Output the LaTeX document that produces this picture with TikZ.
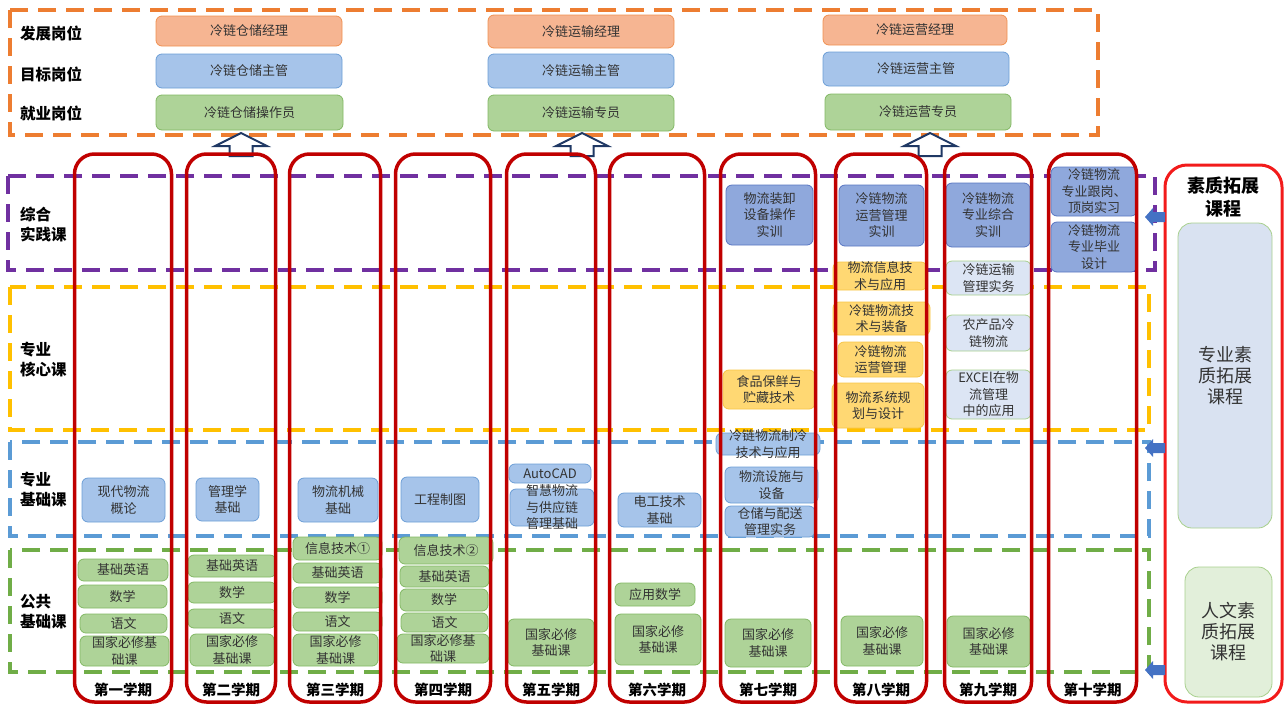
\documentclass[tikz,border=0pt]{standalone}
\usepackage{fontspec}
\setmainfont{Noto Sans CJK SC}
\usetikzlibrary{positioning}

\definecolor{lnorange}{HTML}{ED7D31}
\definecolor{lnpurple}{HTML}{7030A0}
\definecolor{lnyellow}{HTML}{FFC000}
\definecolor{lnblue}{HTML}{5B9BD5}
\definecolor{lngreen}{HTML}{70AD47}
\definecolor{semred}{HTML}{C00000}
\definecolor{brred}{HTML}{F21B1B}
\definecolor{navy}{HTML}{1F3864}
\definecolor{arblue}{HTML}{4472C4}

\tikzset{
  lane/.style={line width=4pt, dash pattern=on 18pt off 10pt},
  wh/.style 2 args={minimum width=#1, minimum height=#2},
  box/.style={draw, line width=0.8pt, rounded corners=6pt, align=center, inner sep=0pt,
    text=black!80, font=\fontsize{13}{16.5}\selectfont},
  txt/.style={align=center, inner sep=0pt, text=black!80, font=\fontsize{13}{16.5}\selectfont},
  obox/.style={box, draw=lnorange!85, fill={rgb,255:red,246;green,181;blue,146}},
  bbox/.style={box, draw={rgb,255:red,108;green,158;blue,214}, fill={rgb,255:red,166;green,196;blue,234}},
  gbox/.style={box, draw={rgb,255:red,130;green,184;blue,100}, fill={rgb,255:red,174;green,211;blue,152}},
  pbox/.style={box, draw={rgb,255:red,88;green,118;blue,194}, fill={rgb,255:red,143;green,168;blue,220}},
  ybox/.style={box, draw={rgb,255:red,247;green,197;blue,71}, fill={rgb,255:red,255;green,216;blue,115}},
  lbox/.style={box, draw={rgb,255:red,168;green,208;blue,141}, fill={rgb,255:red,220;green,229;blue,244}},
  head/.style={anchor=west, align=left, inner sep=0pt, font=\fontsize{15.5}{20}\selectfont\bfseries},
  sem/.style={draw=semred, line width=3.5pt, rounded corners=20pt, minimum height=548pt, inner sep=0pt},
  semlab/.style={inner sep=0pt, font=\fontsize{14.5}{17}\selectfont\bfseries},
  uparr/.style={draw=navy, line width=2pt, fill=white, line join=miter},
  larr/.style={fill=arblue}
}

\begin{document}
\begin{tikzpicture}[x=1pt, y=-1pt]
    \useasboundingbox (0,0) rectangle (1285,705);

    \draw[lane, draw=lnorange] (10,10) rectangle (1098,135);
    \draw[lane, draw=lnpurple] (8,176) rectangle (1155,270);
    \draw[lane, draw=lnyellow] (10,287) rectangle (1149,430);
    \draw[lane, draw=lnblue] (10,442) rectangle (1149,536);
    \draw[lane, draw=lngreen] (10,550) rectangle (1149,672);

    \node[head] (h1) at (20,34) {发展岗位};
    \node[head] (h2) at (20,74) {目标岗位};
    \node[head] (h3) at (20,113) {就业岗位};
    \node[head] (h4) at (20,225) {综合\\实践课};
    \node[head] (h5) at (20,360) {专业\\核心课};
    \node[head] (h6) at (20,490) {专业\\基础课};
    \node[head] (h7) at (20,612) {公共\\基础课};

    \node[obox, wh={186}{30}] (ja1) at (249,31) {冷链仓储经理};
    \node[bbox, wh={186}{34}] (ja2) at (249,71) {冷链仓储主管};
    \node[gbox, wh={187}{35}] (ja3) at (249.5,112.5) {冷链仓储操作员};
    \node[obox, wh={186}{33}] (jb1) at (581,31.5) {冷链运输经理};
    \node[bbox, wh={186}{34}] (jb2) at (581,71) {冷链运输主管};
    \node[gbox, wh={186}{36}] (jb3) at (581,113) {冷链运输专员};
    \node[obox, wh={184}{30}] (jc1) at (915,30) {冷链运营经理};
    \node[bbox, wh={186}{34}] (jc2) at (916,69) {冷链运营主管};
    \node[gbox, wh={186}{36}] (jc3) at (918,112) {冷链运营专员};

    \coordinate (u1) at (241,133);
    \coordinate (u2) at (582,133);
    \coordinate (u3) at (930,133);
    \draw[uparr] (u1) -- ++(26,13) -- ++(-14.5,0) -- ++(0,10) -- ++(-23,0) -- ++(0,-10) -- ++(-14.5,0) -- cycle;
    \draw[uparr] (u2) -- ++(26,13) -- ++(-14.5,0) -- ++(0,10) -- ++(-23,0) -- ++(0,-10) -- ++(-14.5,0) -- cycle;
    \draw[uparr] (u3) -- ++(26,13) -- ++(-14.5,0) -- ++(0,10) -- ++(-23,0) -- ++(0,-10) -- ++(-14.5,0) -- cycle;

    % semester 1-4
    \node[bbox, wh={83}{44}] (c1p) at (123.5,500) {现代物流\\概论};
    \node[gbox, wh={90}{22}] (c1a) at (123,570) {基础英语};
    \node[gbox, wh={89}{23}] (c1b) at (122.5,596.5) {数学};
    \node[gbox, wh={87}{19}] (c1c) at (123.5,623.5) {语文};
    \node[gbox, wh={89}{30}, label={[txt]center:{国家必修基\\础课}}] (c1d) at (124.5,651) {};

    \node[bbox, wh={63}{43}] (c2p) at (227.5,499.5) {管理学\\基础};
    \node[gbox, wh={88}{22}] (c2a) at (232,566) {基础英语};
    \node[gbox, wh={88}{21}] (c2b) at (232,592.5) {数学};
    \node[gbox, wh={88}{19}] (c2c) at (232,618.5) {语文};
    \node[gbox, wh={84}{32}] (c2d) at (232,650) {国家必修\\基础课};

    \node[bbox, wh={80}{44}] (c3p) at (338,500) {物流机械\\基础};
    \node[gbox, wh={89}{23}] (c3a) at (337.5,548.5) {信息技术①};
    \node[gbox, wh={89}{20}] (c3b) at (337.5,573) {基础英语};
    \node[gbox, wh={89}{21}] (c3c) at (337.5,597.5) {数学};
    \node[gbox, wh={89}{19}] (c3d) at (337.5,621.5) {语文};
    \node[gbox, wh={85}{32}] (c3e) at (335.5,650) {国家必修\\基础课};

    \node[bbox, wh={78}{45}] (c4p) at (440,499.5) {工程制图};
    \node[gbox, wh={94}{27}] (c4a) at (446,550.5) {信息技术②};
    \node[gbox, wh={89}{21}] (c4b) at (444.5,576.5) {基础英语};
    \node[gbox, wh={88}{22}] (c4c) at (444,600) {数学};
    \node[gbox, wh={87}{19}] (c4d) at (444.5,622.5) {语文};
    \node[gbox, wh={92}{29}, label={[txt]center:{国家必修基\\础课}}] (c4e) at (443,648.5) {};

    % semester 5-6
    \node[bbox, wh={82}{19}] (c5p) at (550,473.5) {AutoCAD};
    \node[bbox, wh={84}{37}, label={[txt]center:{智慧物流\\与供应链\\管理基础}}] (c5q) at (552,507.5) {};
    \node[gbox, wh={86}{47}] (c5a) at (551,642.5) {国家必修\\基础课};

    \node[bbox, wh={83}{34}] (c6p) at (659.5,510) {电工技术\\基础};
    \node[gbox, wh={80}{23}] (c6a) at (655,594.5) {应用数学};
    \node[gbox, wh={86}{51}] (c6b) at (658,639.5) {国家必修\\基础课};

    % semester 7-10
    \node[pbox, wh={87}{60}] (c7s) at (769.5,215) {物流装卸\\设备操作\\实训};
    \node[ybox, wh={92}{39}] (c7k) at (769,389.5) {食品保鲜与\\贮藏技术};
    \node[bbox, wh={104}{22}, label={[txt]center:{冷链物流制冷\\技术与应用}}] (c7p) at (768,444) {};
    \node[bbox, wh={93}{36}] (c7q) at (771.5,485) {物流设施与\\设备};
    \node[bbox, wh={90}{31}, label={[txt]center:{仓储与配送\\管理实务}}] (c7r) at (770,521.5) {};
    \node[gbox, wh={86}{48}] (c7a) at (768,643) {国家必修\\基础课};

    \node[pbox, wh={85}{61}] (c8s) at (881.5,215.5) {冷链物流\\运营管理\\实训};
    \node[ybox, wh={94}{28}, label={[txt]center:{物流信息技\\术与应用}}] (c8k) at (880,276) {};
    \node[ybox, wh={97}{33}] (c8l) at (881.5,318.5) {冷链物流技\\术与装备};
    \node[ybox, wh={85}{35}] (c8m) at (880.5,359.5) {冷链物流\\运营管理};
    \node[ybox, wh={92}{45}] (c8n) at (878,405.5) {物流系统规\\划与设计};
    \node[gbox, wh={82}{50}] (c8a) at (882,641) {国家必修\\基础课};

    \node[pbox, wh={84}{64}] (c9s) at (988,215) {冷链物流\\专业综合\\实训};
    \node[lbox, wh={85}{34}] (c9k) at (988.5,278) {冷链运输\\管理实务};
    \node[lbox, wh={85}{36}] (c9l) at (988.5,333) {农产品冷\\链物流};
    \node[lbox, wh={85}{49}, label={[txt]center:{EXCEl在物\\流管理\\中的应用}}] (c9m) at (988.5,394.5) {};
    \node[gbox, wh={83}{51}] (c9a) at (988.5,641.5) {国家必修\\基础课};

    \node[pbox, wh={86}{49}, label={[txt]center:{冷链物流\\专业跟岗、\\顶岗实习}}] (c10s) at (1094,191.5) {};
    \node[pbox, wh={86}{50}, label={[txt]center:{冷链物流\\专业毕业\\设计}}] (c10t) at (1094,247) {};

    \node[sem, minimum width=97pt] (s1) at (123,428) {};
    \node[sem, minimum width=89pt] (s2) at (231,428) {};
    \node[sem, minimum width=91pt] (s3) at (335,428) {};
    \node[sem, minimum width=95pt] (s4) at (443,428) {};
    \node[sem, minimum width=89pt] (s5) at (551,428) {};
    \node[sem, minimum width=95pt] (s6) at (657,428) {};
    \node[sem, minimum width=95pt] (s7) at (768,428) {};
    \node[sem, minimum width=91pt] (s8) at (881,428) {};
    \node[sem, minimum width=87pt] (s9) at (988,428) {};
    \node[sem, minimum width=88pt] (s10) at (1092.5,428) {};

    \node[semlab, above=7pt of s1.south] (t1) {第一学期};
    \node[semlab, above=7pt of s2.south] (t2) {第二学期};
    \node[semlab, above=7pt of s3.south] (t3) {第三学期};
    \node[semlab, above=7pt of s4.south] (t4) {第四学期};
    \node[semlab, above=7pt of s5.south] (t5) {第五学期};
    \node[semlab, above=7pt of s6.south] (t6) {第六学期};
    \node[semlab, above=7pt of s7.south] (t7) {第七学期};
    \node[semlab, above=7pt of s8.south] (t8) {第八学期};
    \node[semlab, above=7pt of s9.south] (t9) {第九学期};
    \node[semlab, above=7pt of s10.south] (t10) {第十学期};

    \node[draw=brred, line width=3pt, rounded corners=22pt, wh={117}{537}] (sz) at (1223.5,433.5) {};
    \node[align=center, inner sep=0pt, font=\fontsize{18}{23}\selectfont\bfseries, below=13pt of sz.north] (szt) {素质拓展\\课程};
    \node[box, draw={rgb,255:red,168;green,208;blue,141}, fill={rgb,255:red,217;green,226;blue,241},
      rounded corners=14pt, font=\fontsize{18}{21}\selectfont, wh={94}{305}] (zy) at (1225,375.5) {专业素\\质拓展\\课程};
    \node[box, draw={rgb,255:red,168;green,208;blue,141}, fill={rgb,255:red,226;green,239;blue,218},
      rounded corners=14pt, font=\fontsize{18}{21}\selectfont, wh={87}{130}] (rw) at (1228.5,632) {人文素\\质拓展\\课程};

    \coordinate (ar1) at (1145,217);
    \coordinate (ar2) at (1145,448);
    \coordinate (ar3) at (1145,670);
    \fill[larr] (ar1) -- ++(8,-9) -- ++(0,4) -- ++(12,0) -- ++(0,10) -- ++(-12,0) -- ++(0,4) -- cycle;
    \fill[larr] (ar2) -- ++(8,-9) -- ++(0,4) -- ++(12,0) -- ++(0,10) -- ++(-12,0) -- ++(0,4) -- cycle;
    \fill[larr] (ar3) -- ++(8,-9) -- ++(0,4) -- ++(12,0) -- ++(0,10) -- ++(-12,0) -- ++(0,4) -- cycle;
\end{tikzpicture}
\end{document}
